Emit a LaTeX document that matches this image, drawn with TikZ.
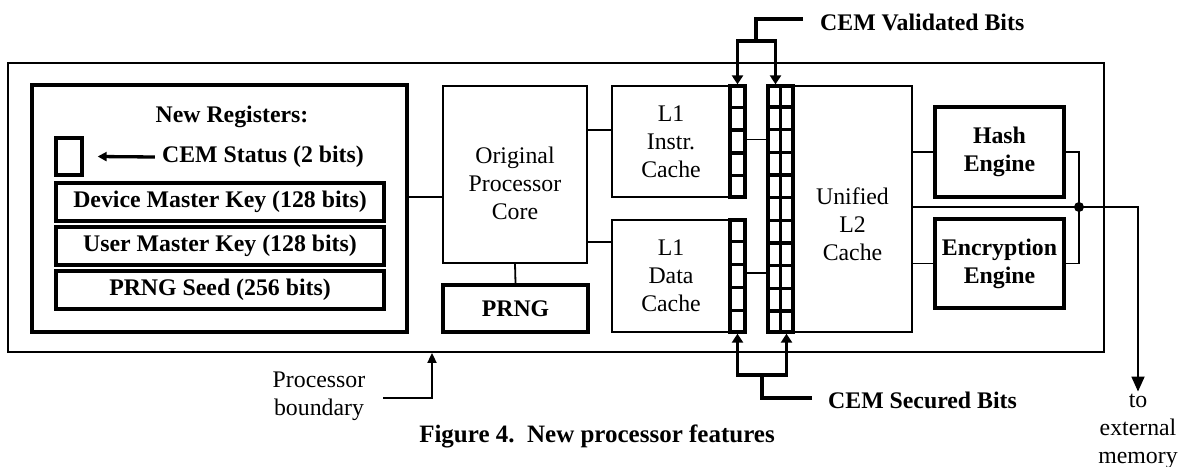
\documentclass[tikz,border=0pt]{standalone}
\usepackage{fontspec}
\setmainfont{Liberation Serif}
\usetikzlibrary{arrows.meta,calc}

\tikzset{
  plainbox/.style={draw, line width=1.8pt, inner sep=0pt, align=center},
  heavybox/.style={draw, line width=3.3pt, inner sep=0pt, align=center, font=\bfseries},
  txt/.style={align=center, inner sep=2pt},
  wire/.style={line width=1.8pt},
  bus/.style={line width=3.3pt},
  tip/.style={-{Triangle[length=9pt,width=11pt]}}
}

\begin{document}
\fontsize{23.8}{28}\selectfont
\begin{tikzpicture}[x=1pt, y=-1pt]
\useasboundingbox (0,0) rectangle (1180,466);

% processor boundary
\node[plainbox, minimum width=1096pt, minimum height=289pt] (proc) at (556,207.5) {};

% new registers
\node[heavybox, minimum width=375pt, minimum height=247pt] (regs) at (219.5,208.5) {};
\node[txt, font=\bfseries] (regtitle) at (232,117) {New Registers:};
\node[heavybox, minimum width=26pt, minimum height=37pt] (status) at (69,156.5) {};
\node[txt, font=\bfseries] (statlbl) at (263,157) {CEM Status (2 bits)};
\draw[bus, -{Triangle[length=9pt,width=9pt]}] ([xshift=-5pt]statlbl.west) -- ([xshift=14pt]status.east);
\node[heavybox, minimum width=328pt, minimum height=38pt] (devkey) at (220,202) {Device Master Key (128 bits)};
\node[heavybox, minimum width=328pt, minimum height=38pt] (usrkey) at (220,246) {User Master Key (128 bits)};
\node[heavybox, minimum width=328pt, minimum height=38pt] (seed) at (220,290) {PRNG Seed (256 bits)};

% core and prng
\node[plainbox, minimum width=144pt, minimum height=177pt] (core) at (515,174.5) {};
\node[txt] (coretxt) at ([yshift=-9pt]core.center) {Original\\Processor\\Core};
\node[heavybox, minimum width=145pt, minimum height=47pt] (prng) at (515.5,308.5) {PRNG};

% L1 caches
\node[plainbox, minimum width=118pt, minimum height=111pt] (l1i) at (671,141.5) {L1\\Instr.\\Cache};
\node[plainbox, minimum width=118pt, minimum height=112pt] (l1d) at (671,276) {L1\\Data\\Cache};

% bit columns
\node[heavybox, minimum width=15pt, minimum height=111pt] (ibits) at (737.5,141.5) {};
\node[heavybox, minimum width=15pt, minimum height=112pt] (dbits) at (737.5,276) {};
\node[heavybox, minimum width=25pt, minimum height=246pt] (l2bits) at (780.5,209) {};
\foreach \b in {ibits,dbits}
  \foreach \k in {1,...,4}
    \draw[bus] ($(\b.north west)!\k/5!(\b.south west)$) -- ($(\b.north east)!\k/5!(\b.south east)$);
\foreach \k in {1,...,10}
  \draw[bus] ($(l2bits.north west)!\k/11!(l2bits.south west)$) -- ($(l2bits.north east)!\k/11!(l2bits.south east)$);
\draw[bus] (l2bits.north) -- (l2bits.south);

% L2 cache and engines
\node[plainbox, minimum width=119pt, minimum height=246pt] (l2) at (852.5,209) {};
\node[txt] (l2txt) at ([yshift=-15pt]l2.center) {Unified\\L2\\Cache};
\node[heavybox, minimum width=129pt, minimum height=90pt] (hash) at (999.5,152) {Hash\\Engine};
\node[heavybox, minimum width=129pt, minimum height=89pt] (enc) at (999.5,263.5) {Encryption\\Engine};

% links
\draw[wire] ([yshift=11.5pt]regs.east) -- ([yshift=11.5pt]regs.east -| core.west);
\draw[wire] ([yshift=11.5pt]l1i.west -| core.east) -- ([yshift=11.5pt]l1i.west);
\draw[wire] ([yshift=34pt]l1d.west -| core.east) -- ([yshift=34pt]l1d.west);
\draw[wire] (core.south) -- (prng.north);
\draw[wire] ([yshift=2pt]ibits.east) -- ([yshift=2pt]ibits.east -| l2bits.west);
\draw[wire] ([yshift=3pt]dbits.east) -- ([yshift=3pt]dbits.east -| l2bits.west);
\draw[wire] (hash.west -| l2.east) -- (hash.west);
\draw[wire] (enc.west -| l2.east) -- (enc.west);
\coordinate (junc) at (1079,207);
\draw[wire] (hash.east) -| (junc) |- (enc.east);
\fill (junc) circle (5pt);

% to memory
\node[txt] (extmem) at (1138,431) {to\\external\\memory};
\draw[wire, -{Triangle[length=15pt,width=13pt]}] (l2.east |- junc) -| (extmem.north);

% CEM validated bits
\node[txt, font=\bfseries, anchor=west] (valid) at (818,22) {CEM Validated Bits};
\coordinate (vsplit) at (756,41);
\draw[bus] ([xshift=-15pt,yshift=3pt]valid.west) -| (vsplit);
\draw[bus, tip] (vsplit) -| (ibits.north);
\draw[bus, tip] (vsplit) -| ([xshift=-5pt]l2bits.north);

% CEM secured bits
\node[txt, font=\bfseries, anchor=west] (secured) at (826,400) {CEM Secured Bits};
\coordinate (ssplit) at (762,375);
\draw[bus] ([xshift=-14pt,yshift=2pt]secured.west) -| (ssplit);
\draw[bus, tip] (ssplit) -| (dbits.south);
\draw[bus, tip] (ssplit) -| ([xshift=6pt]l2bits.south);

% boundary label
\node[txt] (pbnd) at (319,396) {Processor\\boundary};
\draw[wire, -{Triangle[length=10pt,width=9pt]}] ([xshift=16pt,yshift=-2pt]pbnd.east) -| ([xshift=-124pt]proc.south);

% caption
\node[font=\bfseries\fontsize{25}{30}\selectfont] (caption) at (597,436) {Figure 4.\ \ New processor features};
\end{tikzpicture}
\end{document}
